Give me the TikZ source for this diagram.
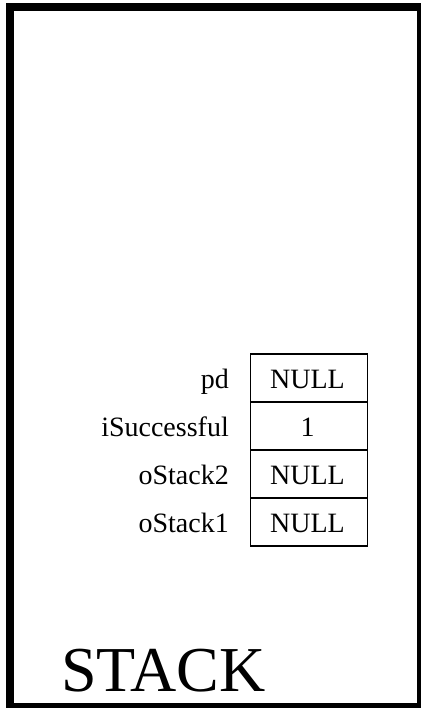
\documentclass[tikz,border=0pt]{standalone}
\usepackage{fontspec}
\setmainfont{Liberation Serif}
\begin{document}
\begin{tikzpicture}[x=1pt,y=-1pt,
  cell/.style={draw=black,line width=1.6pt,minimum width=117pt,minimum height=48pt,inner sep=0pt,anchor=north west},
  lbl/.style={anchor=base east,inner sep=0pt,font=\fontsize{28}{32}\selectfont},
  val/.style={anchor=base,inner sep=0pt,font=\fontsize{28}{32}\selectfont}]
\useasboundingbox (0,0) rectangle (421,708);
\fill[black] (6,3) rectangle (421,708);
\fill[white] (14,11) rectangle (417,703);
\node[cell] (c1) at (249.5,353) {};
\node[cell] (c2) at (249.5,401) {};
\node[cell] (c3) at (249.5,449) {};
\node[cell] (c4) at (249.5,497) {};
\node[val] (v1) at (307.5,388) {NULL};
\node[val] (v2) at (307.5,436) {1};
\node[val] (v3) at (307.5,484) {NULL};
\node[val] (v4) at (307.5,532) {NULL};
\node[lbl] (l1) at (229,388) {pd};
\node[lbl] (l2) at (229,436) {iSuccessful};
\node[lbl] (l3) at (229,484) {oStack2};
\node[lbl] (l4) at (229,532) {oStack1};
\node[anchor=base west,inner sep=0pt,font=\fontsize{64}{72}\selectfont] (st) at (61,691) {STACK};
\end{tikzpicture}
\end{document}
